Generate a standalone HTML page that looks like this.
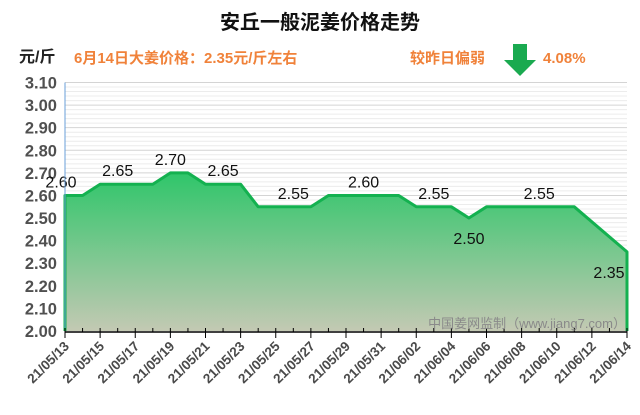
<!DOCTYPE html>
<html><head><meta charset="utf-8"><style>
body{margin:0;background:#fff;width:640px;height:410px;overflow:hidden;font-family:"Liberation Sans","Noto Sans CJK SC",sans-serif}
</style></head><body>
<svg id="chart" width="640" height="410" xmlns="http://www.w3.org/2000/svg" font-family="Liberation Sans, Noto Sans CJK SC, sans-serif">
<defs><linearGradient id="fillg" x1="0" y1="0" x2="0" y2="1">
<stop offset="0" stop-color="#2fc66a"/><stop offset="1" stop-color="#c3c9b3"/></linearGradient></defs>
<text x="320" y="29" text-anchor="middle" font-size="20" font-weight="bold" fill="#111">安丘一般泥姜价格走势</text>
<text x="19" y="62" font-size="16" font-weight="bold" fill="#222">元/斤</text>
<text x="74" y="63" font-size="15" font-weight="bold" fill="#f0823a">6月14日大姜价格：2.35元/斤左右</text>
<text x="410" y="63" font-size="15" font-weight="bold" fill="#f0823a">较昨日偏弱</text>
<polygon points="513,44 527,44 527,60 536,60 520,76 504,60 513,60" fill="#1aaa50"/>
<text x="543" y="63" font-size="15" font-weight="bold" fill="#f0823a">4.08%</text>
<g id="grid"></g><g id="yticks"></g><g id="series"></g><g id="xaxis"></g>
<text x="626" y="328" text-anchor="end" font-size="13" fill="#8a8a8a">中国姜网监制（www.jiang7.com）</text>
</svg>
<script>
const dayOffsets=[0,1,2,3,4,5,6,7,8,9,10,11,12,13,14,15,16,17,18,19,20,21,22,23,24,25,26,27,28,29,32];
const prices=[2.60,2.60,2.65,2.65,2.65,2.65,2.70,2.70,2.65,2.65,2.65,2.55,2.55,2.55,2.55,2.60,2.60,2.60,2.60,2.60,2.55,2.55,2.55,2.50,2.55,2.55,2.55,2.55,2.55,2.55,2.35];
const labelIdx=[0,3,6,9,13,17,21,23,27,30];
const xTickLabels=["21/05/13","21/05/15","21/05/17","21/05/19","21/05/21","21/05/23","21/05/25","21/05/27","21/05/29","21/05/31","21/06/02","21/06/04","21/06/06","21/06/08","21/06/10","21/06/12","21/06/14"];
const yTickLabels=["2.00","2.10","2.20","2.30","2.40","2.50","2.60","2.70","2.80","2.90","3.00","3.10"];
const NS="http://www.w3.org/2000/svg";
const X0=65,X1=627,Y0=331,Y1=82.5,YMIN=2.0,YMAX=3.1,DMAX=32;
const xs=d=>X0+(X1-X0)*d/DMAX, ys=v=>Y0-(Y0-Y1)*(v-YMIN)/(YMAX-YMIN);
function mk(t,a,p){const e=document.createElementNS(NS,t);for(const k in a)e.setAttribute(k,a[k]);p.appendChild(e);return e;}
const grid=document.getElementById('grid'),yt=document.getElementById('yticks'),se=document.getElementById('series'),xa=document.getElementById('xaxis');
for(let i=1;i<=55;i++){const v=YMIN+i*0.02;const major=i%5===0;
const l=mk('line',{x1:X0,x2:X1,y1:ys(v),y2:ys(v),stroke:major?'#d4d4d4':'#ececec','stroke-width':1},grid);

}
yTickLabels.forEach(s=>{const t=mk('text',{x:57,y:ys(parseFloat(s))+6,'text-anchor':'end','font-size':16.5,'font-weight':'bold',fill:'#505050'},yt);t.textContent=s;

});
const pts=dayOffsets.map((d,i)=>xs(d).toFixed(1)+','+ys(prices[i]).toFixed(1));
const area=mk('polygon',{points:xs(0)+','+Y0+' '+pts.join(' ')+' '+xs(DMAX)+','+Y0,fill:'url(#fillg)'},se);


const line=mk('polyline',{points:xs(0)+','+Y0+' '+pts.join(' ')+' '+xs(DMAX)+','+Y0,fill:'none',stroke:'#14b150','stroke-width':3,'stroke-linejoin':'round'},se);


labelIdx.forEach((i,k)=>{const below=(i===23||i===30);
const t=mk('text',{x:xs(dayOffsets[i])+(k===0?-4:0)+(i===30?-18:0),y:below?ys(prices[i])+26:ys(prices[i])-8,'text-anchor':'middle','font-size':16,fill:'#111'},se);
t.textContent=prices[i].toFixed(2);

});
const ax=mk('line',{x1:X0,x2:X0,y1:Y1,y2:Y0,stroke:'#6a9fd8','stroke-width':1},xa);


const bx=mk('line',{x1:X0,x2:X1,y1:Y0+1,y2:Y0+1,stroke:'#000','stroke-width':1.5},xa);


for(let d=0;d<=DMAX;d++){const tk=mk('line',{x1:xs(d),x2:xs(d),y1:Y0-3,y2:Y0+(d%2===0?7:1),stroke:'#000','stroke-width':1},xa);

}
xTickLabels.forEach((s,i)=>{const x=xs(i*2)+5,y=Y0+16;
const t=mk('text',{x:x,y:y,'text-anchor':'end','font-size':13.5,'font-weight':'bold',fill:'#4a4a4a',transform:`rotate(-45 ${x} ${y})`},xa);t.textContent=s;

});
</script>
</body></html>
